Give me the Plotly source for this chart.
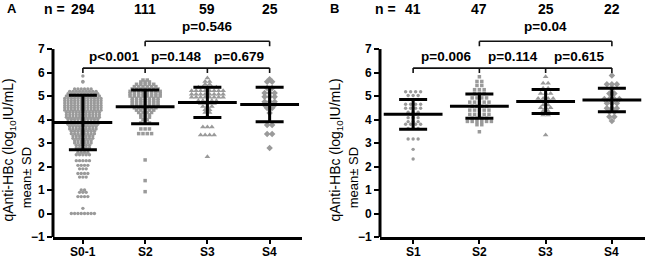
import plotly.graph_objects as go

# ---------------- data ----------------
cats_a = ["S0-1", "S2", "S3", "S4"]
cats_b = ["S1", "S2", "S3", "S4"]
n_a = ["294", "111", "59", "25"]
n_b = ["41", "47", "25", "22"]

a_s01 = [
    5.85, 5.62, 5.6,
    5.3, 5.3, 5.3, 5.3, 5.3, 5.3,
    5.2, 5.2, 5.2, 5.2, 5.2, 5.2, 5.2, 5.2, 5.2,
    5.1, 5.1, 5.1, 5.1, 5.1, 5.1, 5.1, 5.1, 5.1, 5.1,
    5.0, 5.0, 5.0, 5.0, 5.0, 5.0, 5.0, 5.0, 5.0, 5.0, 5.0,
    4.9, 4.9, 4.9, 4.9, 4.9, 4.9, 4.9, 4.9, 4.9, 4.9, 4.9, 4.9,
    4.8, 4.8, 4.8, 4.8, 4.8, 4.8, 4.8, 4.8, 4.8, 4.8, 4.8, 4.8,
    4.7, 4.7, 4.7, 4.7, 4.7, 4.7, 4.7, 4.7, 4.7, 4.7, 4.7, 4.7,
    4.6, 4.6, 4.6, 4.6, 4.6, 4.6, 4.6, 4.6, 4.6, 4.6, 4.6, 4.6,
    4.5, 4.5, 4.5, 4.5, 4.5, 4.5, 4.5, 4.5, 4.5, 4.5, 4.5, 4.5,
    4.4, 4.4, 4.4, 4.4, 4.4, 4.4, 4.4, 4.4, 4.4, 4.4, 4.4, 4.4,
    4.3, 4.3, 4.3, 4.3, 4.3, 4.3, 4.3, 4.3, 4.3, 4.3, 4.3,
    4.2, 4.2, 4.2, 4.2, 4.2, 4.2, 4.2, 4.2, 4.2, 4.2, 4.2,
    4.1, 4.1, 4.1, 4.1, 4.1, 4.1, 4.1, 4.1, 4.1, 4.1, 4.1,
    4.0, 4.0, 4.0, 4.0, 4.0, 4.0, 4.0, 4.0, 4.0, 4.0,
    3.9, 3.9, 3.9, 3.9, 3.9, 3.9, 3.9, 3.9, 3.9, 3.9,
    3.8, 3.8, 3.8, 3.8, 3.8, 3.8, 3.8, 3.8, 3.8, 3.8,
    3.7, 3.7, 3.7, 3.7, 3.7, 3.7, 3.7, 3.7, 3.7,
    3.6, 3.6, 3.6, 3.6, 3.6, 3.6, 3.6, 3.6, 3.6,
    3.5, 3.5, 3.5, 3.5, 3.5, 3.5, 3.5, 3.5,
    3.4, 3.4, 3.4, 3.4, 3.4, 3.4, 3.4, 3.4,
    3.3, 3.3, 3.3, 3.3, 3.3, 3.3, 3.3,
    3.2, 3.2, 3.2, 3.2, 3.2, 3.2, 3.2,
    3.1, 3.1, 3.1, 3.1, 3.1, 3.1,
    3.0, 3.0, 3.0, 3.0, 3.0, 3.0,
    2.9, 2.9, 2.9, 2.9, 2.9,
    2.8, 2.8, 2.8, 2.8, 2.8,
    2.7, 2.7, 2.7, 2.7,
    2.6, 2.6, 2.6, 2.6,
    2.5, 2.5, 2.5, 2.5, 2.5,
    2.25, 2.25, 2.25, 2.25, 2.25,
    2.05, 2.05, 2.05, 2.05,
    1.9, 1.9, 1.9,
    1.7, 1.7, 1.7, 1.7,
    1.55, 1.55, 1.55,
    1.0, 1.0,
    0.9, 0.9, 0.9,
    0.72, 0.72, 0.72, 0.72,
    0.22,
    0.0, 0.0, 0.0, 0.0, 0.0, 0.0, 0.0, 0.0,
]
a_s2 = [
    5.68, 5.68,
    5.6, 5.6, 5.6,
    5.5, 5.5, 5.5, 5.5, 5.5,
    5.4, 5.4, 5.4, 5.4, 5.4, 5.4,
    5.3, 5.3, 5.3, 5.3, 5.3, 5.3, 5.3,
    5.2, 5.2, 5.2, 5.2, 5.2, 5.2, 5.2, 5.2,
    5.1, 5.1, 5.1, 5.1, 5.1, 5.1, 5.1, 5.1,
    5.0, 5.0, 5.0, 5.0, 5.0, 5.0, 5.0, 5.0,
    4.9, 4.9, 4.9, 4.9, 4.9, 4.9, 4.9,
    4.8, 4.8, 4.8, 4.8, 4.8, 4.8, 4.8,
    4.7, 4.7, 4.7, 4.7, 4.7, 4.7, 4.7,
    4.6, 4.6, 4.6, 4.6, 4.6, 4.6, 4.6,
    4.5, 4.5, 4.5, 4.5, 4.5, 4.5,
    4.4, 4.4, 4.4, 4.4, 4.4,
    4.3, 4.3, 4.3, 4.3,
    4.2, 4.2, 4.2,
    4.1, 4.1, 4.1,
    4.0, 4.0,
    3.85, 3.85, 3.85,
    3.6, 3.6, 3.6,
    3.4, 3.4, 3.4, 3.4,
    2.28, 1.4, 0.93,
]
a_s3 = [
    5.77,
    5.62, 5.62,
    5.5, 5.5,
    5.37, 5.37, 5.37, 5.37, 5.37,
    5.22, 5.22, 5.22, 5.22, 5.22, 5.22, 5.22, 5.22,
    5.08, 5.08, 5.08, 5.08, 5.08, 5.08, 5.08, 5.08,
    4.95, 4.95, 4.95, 4.95, 4.95, 4.95, 4.95, 4.95,
    4.8, 4.8, 4.8, 4.8, 4.8,
    4.68, 4.68, 4.68, 4.68,
    4.55, 4.55, 4.55,
    4.42, 4.42,
    4.3, 4.3,
    4.15,
    3.68, 3.68, 3.68,
    3.34, 3.34, 3.34, 3.34,
    2.42,
]
a_s4 = [
    5.71,
    5.61, 5.61,
    5.34, 5.34,
    5.13, 5.13, 5.13,
    4.97, 4.97, 4.97,
    4.76, 4.76, 4.76,
    4.62, 4.62, 4.62,
    4.49, 4.49,
    4.28,
    3.77, 3.77,
    3.38, 3.38,
    2.79,
]
b_s1 = [
    5.18, 5.18, 5.18, 5.18,
    5.02, 5.02, 5.02,
    4.85, 4.85, 4.85,
    4.65, 4.65, 4.65, 4.65,
    4.48, 4.48, 4.48, 4.48,
    4.31, 4.31, 4.31,
    4.22, 4.22,
    4.08, 4.08, 4.08,
    3.91, 3.91, 3.91,
    3.8, 3.8, 3.8, 3.8,
    3.62, 3.62, 3.62,
    3.17, 3.17, 3.17,
    2.73,
    2.32,
]
b_s2 = [
    5.82,
    5.62, 5.62,
    5.45, 5.45,
    5.27, 5.27, 5.27,
    5.11, 5.11, 5.11,
    4.92, 4.92, 4.92, 4.92,
    4.74, 4.74, 4.74, 4.74, 4.74,
    4.56, 4.56, 4.56, 4.56,
    4.4, 4.4, 4.4, 4.4, 4.4,
    4.22, 4.22, 4.22, 4.22, 4.22,
    4.05, 4.05, 4.05, 4.05,
    3.92, 3.92, 3.92, 3.92, 3.92, 3.92,
    3.78, 3.78,
    3.48,
]
b_s3 = [
    5.82,
    5.54, 5.54,
    5.33, 5.33,
    5.11, 5.11, 5.11,
    4.9, 4.9, 4.9, 4.9,
    4.76, 4.76, 4.76,
    4.62, 4.62,
    4.5, 4.5, 4.5,
    4.36, 4.36,
    4.19, 4.19,
    3.34,
]
b_s4 = [
    5.87,
    5.5, 5.5, 5.5,
    5.33,
    5.11, 5.11,
    4.87, 4.87, 4.87, 4.87,
    4.69, 4.69, 4.69,
    4.48, 4.48, 4.48,
    4.33, 4.33,
    4.12, 4.12,
    3.94,
]

mean_a = [3.87, 4.54, 4.73, 4.64]
sd_a = [1.16, 0.72, 0.64, 0.73]
mean_b = [4.22, 4.57, 4.77, 4.83]
sd_b = [0.63, 0.52, 0.51, 0.50]

p_pairs_a = ["p&lt;0.001", "p=0.148", "p=0.679"]
p_top_a = "p=0.546"
p_pairs_b = ["p=0.006", "p=0.114", "p=0.615"]
p_top_b = "p=0.04"

# ---------------- styling ----------------
W, H = 650, 258
DOM_A = [53 / W, 302 / W]
DOM_B = [380 / W, 645 / W]
RANGE_A = [-0.48, 3.52]
RANGE_B = [-0.5, 3.5]
YR = [-1, 8.96]
PX_A = (DOM_A[1] - DOM_A[0]) * W / (RANGE_A[1] - RANGE_A[0])
PX_B = (DOM_B[1] - DOM_B[0]) * W / (RANGE_B[1] - RANGE_B[0])
GRAY = "#9a9a9a"
FONT = "Liberation Sans, Arial, sans-serif"
symbols = ["circle", "square", "triangle-up", "diamond"]
msizes = [3.4, 3.5, 5.0, 5.0]


def swarm(vals, pos, spacing_px, px_per_unit):
    counts = {}
    for v in vals:
        counts[v] = counts.get(v, 0) + 1
    xs, ys = [], []
    for v, n in counts.items():
        for i in range(n):
            xs.append(pos + (i - (n - 1) / 2) * spacing_px / px_per_unit)
            ys.append(v)
    return xs, ys


fig = go.Figure()

groups = [
    ("x", "y", PX_A, [a_s01, a_s2, a_s3, a_s4], [3.3, 4.3, 4.5, 5.0], mean_a, sd_a),
    ("x2", "y2", PX_B, [b_s1, b_s2, b_s3, b_s4], [5.0, 4.8, 5.0, 5.0], mean_b, sd_b),
]
for xa, ya, ppu, sets, spacings, means, sds in groups:
    for k, vals in enumerate(sets):
        xs, ys = swarm(vals, k, spacings[k], ppu)
        fig.add_trace(go.Scatter(
            x=xs, y=ys, xaxis=xa, yaxis=ya, mode="markers",
            marker=dict(symbol=symbols[k], size=msizes[k], color=GRAY, line=dict(width=0)),
            showlegend=False, hoverinfo="skip"))
    fig.add_trace(go.Scatter(
        x=[0, 1, 2, 3], y=means, xaxis=xa, yaxis=ya, mode="markers",
        marker=dict(symbol="line-ew", size=42, color="black", line=dict(color="black", width=3)),
        error_y=dict(type="data", array=sds, visible=True, color="black", thickness=3, width=14),
        showlegend=False, hoverinfo="skip"))

axis_common = dict(
    showgrid=False, zeroline=False, ticks="outside", tickcolor="black",
    tickfont=dict(family=FONT, size=12, color="black", weight="bold"),
    fixedrange=True,
)
fig.update_layout(
    width=W, height=H,
    margin=dict(l=0, r=0, t=3, b=21),
    paper_bgcolor="white", plot_bgcolor="white",
    xaxis=dict(domain=DOM_A, range=RANGE_A, anchor="y", tickvals=[0, 1, 2, 3], showticklabels=False,
               showline=True, linewidth=3, linecolor="black", ticklen=4, tickwidth=2, **axis_common),
    yaxis=dict(domain=[0, 1], range=YR, anchor="x", tickvals=list(range(-1, 8)),
               showline=False, ticklen=5, tickwidth=2, **axis_common),
    xaxis2=dict(domain=DOM_B, range=RANGE_B, anchor="y2", tickvals=[0, 1, 2, 3], showticklabels=False,
                showline=True, linewidth=3, linecolor="black", ticklen=4, tickwidth=2, **axis_common),
    yaxis2=dict(domain=[0, 1], range=YR, anchor="x2", tickvals=list(range(-1, 8)),
                showline=False, ticklen=5, tickwidth=2, **axis_common),
)

shapes = []
annotations = []
BR_LOW, BR_LOW_TICK = 6.19, 5.98
BR_TOP, BR_TOP_TICK = 7.33, 7.12
for xa, ya, dom, cats, pairs, ptop, ns, shift, letter, letter_x, t1x, t2x in [
    ("x", "y", DOM_A, cats_a, p_pairs_a, p_top_a, n_a, -16, "A", 5 / W, 9 / W, 26 / W),
    ("x2", "y2", DOM_B, cats_b, p_pairs_b, p_top_b, n_b, -15, "B", 328 / W, 336 / W, 353 / W),
]:
    line = dict(color="#111111", width=1.6)
    # y axis line (only from -1 to 7)
    shapes.append(dict(type="line", xref="paper", yref=ya, x0=dom[0], x1=dom[0], y0=-1, y1=7,
                       line=dict(color="black", width=3)))
    # lower bracket chain
    shapes.append(dict(type="line", xref=xa, yref=ya, x0=0, x1=3, y0=BR_LOW, y1=BR_LOW, line=line))
    for c in range(4):
        shapes.append(dict(type="line", xref=xa, yref=ya, x0=c, x1=c, y0=BR_LOW, y1=BR_LOW_TICK, line=line))
    # top bracket
    shapes.append(dict(type="line", xref=xa, yref=ya, x0=1, x1=3, y0=BR_TOP, y1=BR_TOP, line=line))
    for c in (1, 3):
        shapes.append(dict(type="line", xref=xa, yref=ya, x0=c, x1=c, y0=BR_TOP, y1=BR_TOP_TICK, line=line))
    bold14 = dict(family=FONT, size=14, color="black", weight="bold")
    bold13 = dict(family=FONT, size=13.5, color="black", weight="bold")
    bold12 = dict(family=FONT, size=12, color="black", weight="bold")
    # category labels under the x axis
    for i, t in enumerate(cats):
        annotations.append(dict(xref=xa, yref=ya, x=i, y=-1, text=t, showarrow=False,
                                font=bold12, xanchor="center", yanchor="top", yshift=-6))
    for i, t in enumerate(pairs):
        annotations.append(dict(xref=xa, yref=ya, x=i + 0.5, y=6.67, text=t, showarrow=False,
                                font=bold13, xanchor="center", yanchor="middle"))
    annotations.append(dict(xref=xa, yref=ya, x=2, y=7.95, text=ptop, showarrow=False,
                            font=bold13, xanchor="center", yanchor="middle"))
    for i, t in enumerate(ns):
        annotations.append(dict(xref=xa, yref=ya, x=i, y=8.72, text=t, showarrow=False,
                                font=bold14, xanchor="center", yanchor="middle"))
    annotations.append(dict(xref=xa, yref=ya, x=0, y=8.72, text="n =", showarrow=False,
                            font=bold14, xanchor="right", yanchor="middle", xshift=shift))
    annotations.append(dict(xref="paper", yref=ya, x=letter_x, y=8.72, text=letter, showarrow=False,
                            font=dict(family=FONT, size=13, color="black", weight="bold"),
                            xanchor="left", yanchor="middle"))
    annotations.append(dict(xref="paper", yref=ya, x=t1x, y=2.68,
                            text="qAnti-HBc (log<sub>10</sub>IU/mL)", showarrow=False, textangle=-90,
                            font=dict(family=FONT, size=14, color="black"),
                            xanchor="center", yanchor="middle"))
    annotations.append(dict(xref="paper", yref=ya, x=t2x, y=1.5,
                            text="mean± SD", showarrow=False, textangle=-90,
                            font=dict(family=FONT, size=13, color="black"),
                            xanchor="center", yanchor="middle"))

fig.update_layout(shapes=shapes, annotations=annotations)
fig.write_html(
    "out.html",
    config={"displayModeBar": False},
    post_script="document.body.style.margin='0';document.body.style.padding='0';"
                "document.documentElement.style.overflow='hidden';",
)
